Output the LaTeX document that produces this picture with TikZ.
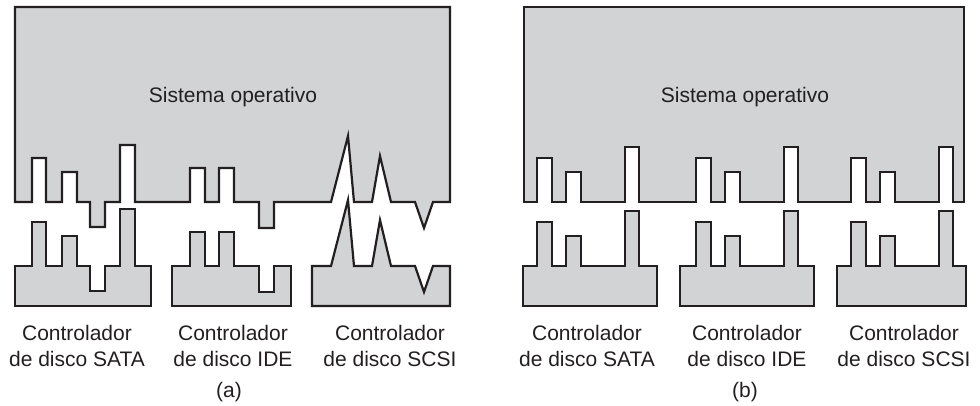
\documentclass[tikz,border=0pt]{standalone}
\usepackage{fontspec}
\setmainfont{Liberation Sans}
\usepackage{xcolor}
\usepackage{tikz}

\definecolor{osgray}{HTML}{D1D3D4}
\definecolor{ink}{HTML}{231F20}

% Plug profiles: #1 = shift down (0 for the OS, 64 for the controller).
\newcommand{\sataprof}[1]{-- (32,202+#1) -- (32,158+#1) -- (46,158+#1) -- (46,202+#1)
  -- (62,202+#1) -- (62,172+#1) -- (77,172+#1) -- (77,202+#1)
  -- (90,202+#1) -- (90,227+#1) -- (105,227+#1) -- (105,202+#1)
  -- (120,202+#1) -- (120,145+#1) -- (135,145+#1) -- (135,202+#1)}
\newcommand{\ideprof}[1]{-- (190,202+#1) -- (190,168+#1) -- (205,168+#1) -- (205,202+#1)
  -- (219,202+#1) -- (219,168+#1) -- (234,168+#1) -- (234,202+#1)
  -- (259,202+#1) -- (259,228+#1) -- (274,228+#1) -- (274,202+#1)}
\newcommand{\scsiprof}[1]{-- (331,202+#1) -- (348,136+#1) -- (354,202+#1)
  -- (372,202+#1) -- (380,156+#1) -- (391,202+#1)
  -- (415,202+#1) -- (424,228+#1) -- (433,202+#1)}
% Standard plug: #1 = left x, #2 = shift down.
\newcommand{\plugprof}[2]{-- (#1+14,202+#2) -- (#1+14,158+#2) -- (#1+29,158+#2) -- (#1+29,202+#2)
  -- (#1+43,202+#2) -- (#1+43,172+#2) -- (#1+58,172+#2) -- (#1+58,202+#2)
  -- (#1+102,202+#2) -- (#1+102,147+#2) -- (#1+116,147+#2) -- (#1+116,202+#2)}

\begin{document}
\begin{tikzpicture}[
  x=1pt, y=-1pt,
  os/.style={draw=ink, fill=osgray, line width=2.2pt, line join=miter},
  ctrl/.style={os},
  lbl/.style={font=\fontsize{21}{26}\selectfont, text=ink, inner sep=0pt,
              anchor=base, align=center}]
\useasboundingbox (0,0) rectangle (980,405);

% (a): every controller has its own plug.
\draw[os] (15,7) -- (15,202) \sataprof{0} \ideprof{0} \scsiprof{0}
  -- (450,202) -- (450,7) -- cycle;
\node[lbl] (osa) at (233,102) {Sistema operativo};

\draw[ctrl] (15,306) -- (15,266) \sataprof{64} -- (151,266) -- (151,306) -- cycle;
\draw[ctrl] (172,306) -- (172,266) \ideprof{64} -- (291,266) -- (291,306) -- cycle;
\draw[ctrl] (312,306) -- (312,266) \scsiprof{64} -- (450,266) -- (450,306) -- cycle;

\node[lbl] (sataa) at (77,366) {Controlador\\de disco SATA};
\node[lbl] (idea) at (233,366) {Controlador\\de disco IDE};
\node[lbl] (scsia) at (390,366) {Controlador\\de disco SCSI};
\node[lbl] (capa) at (229,397) {(a)};

% (b): one plug shape for all controllers.
\draw[os] (524,7) -- (524,202) \plugprof{523}{0} \plugprof{682}{0} \plugprof{837}{0}
  -- (964,202) -- (964,7) -- cycle;
\node[lbl] (osb) at (745,102) {Sistema operativo};

\draw[ctrl] (523,306) -- (523,266) \plugprof{523}{64} -- (657,266) -- (657,306) -- cycle;
\draw[ctrl] (680,306) -- (680,266) \plugprof{682}{64} -- (814,266) -- (814,306) -- cycle;
\draw[ctrl] (837,306) -- (837,266) \plugprof{837}{64} -- (966,266) -- (966,306) -- cycle;

\node[lbl] (satab) at (587,366) {Controlador\\de disco SATA};
\node[lbl] (ideb) at (747,366) {Controlador\\de disco IDE};
\node[lbl] (scsib) at (904,366) {Controlador\\de disco SCSI};
\node[lbl] (capb) at (745,397) {(b)};
\end{tikzpicture}
\end{document}
